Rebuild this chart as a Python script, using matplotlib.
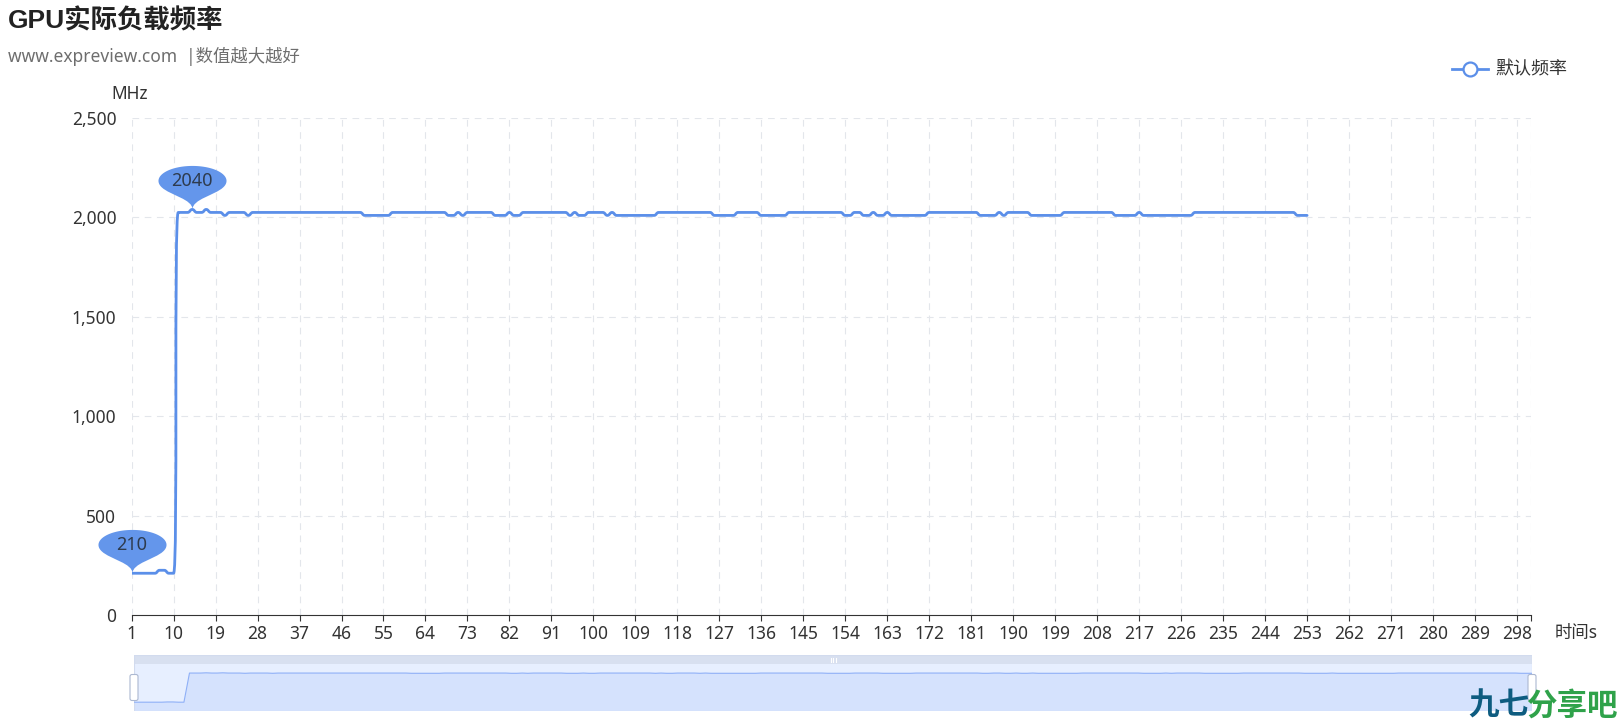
import numpy as np
import matplotlib
matplotlib.use("Agg")
import matplotlib.pyplot as plt
from matplotlib.path import Path
from matplotlib.patches import PathPatch, Rectangle, FancyBboxPatch, Polygon
from matplotlib.markers import MarkerStyle
from matplotlib.lines import Line2D

plt.rcParams['font.family'] = ['Noto Sans', 'Noto Sans CJK SC', 'DejaVu Sans']

# ---------------- data ----------------
title = "GPU实际负载频率"
subtitle = "www.expreview.com  |数值越大越好"
series_name = "默认频率"
y_unit = "MHz"
x_name = "时间s"
categories = list(range(1, 302))
y_ticks = [0, 500, 1000, 1500, 2000, 2500]
freq = [
    210, 210, 210, 210, 210, 210, 225, 225, 210, 210,
    2025, 2025, 2025, 2040, 2025, 2025, 2040, 2025, 2025, 2025,
    2010, 2025, 2025, 2025, 2025, 2010, 2025, 2025, 2025, 2025,
    2025, 2025, 2025, 2025, 2025, 2025, 2025, 2025, 2025, 2025,
    2025, 2025, 2025, 2025, 2025, 2025, 2025, 2025, 2025, 2025,
    2010, 2010, 2010, 2010, 2010, 2010, 2025, 2025, 2025, 2025,
    2025, 2025, 2025, 2025, 2025, 2025, 2025, 2025, 2010, 2010,
    2025, 2010, 2025, 2025, 2025, 2025, 2025, 2025, 2010, 2010,
    2010, 2025, 2010, 2010, 2025, 2025, 2025, 2025, 2025, 2025,
    2025, 2025, 2025, 2025, 2010, 2025, 2010, 2010, 2025, 2025,
    2025, 2025, 2010, 2025, 2010, 2010, 2010, 2010, 2010, 2010,
    2010, 2010, 2010, 2025, 2025, 2025, 2025, 2025, 2025, 2025,
    2025, 2025, 2025, 2025, 2025, 2010, 2010, 2010, 2010, 2010,
    2025, 2025, 2025, 2025, 2025, 2010, 2010, 2010, 2010, 2010,
    2010, 2025, 2025, 2025, 2025, 2025, 2025, 2025, 2025, 2025,
    2025, 2025, 2025, 2010, 2010, 2025, 2025, 2010, 2010, 2025,
    2010, 2010, 2025, 2010, 2010, 2010, 2010, 2010, 2010, 2010,
    2010, 2025, 2025, 2025, 2025, 2025, 2025, 2025, 2025, 2025,
    2025, 2025, 2010, 2010, 2010, 2010, 2025, 2010, 2025, 2025,
    2025, 2025, 2025, 2010, 2010, 2010, 2010, 2010, 2010, 2010,
    2025, 2025, 2025, 2025, 2025, 2025, 2025, 2025, 2025, 2025,
    2025, 2010, 2010, 2010, 2010, 2010, 2025, 2010, 2010, 2010,
    2010, 2010, 2010, 2010, 2010, 2010, 2010, 2010, 2025, 2025,
    2025, 2025, 2025, 2025, 2025, 2025, 2025, 2025, 2025, 2025,
    2025, 2025, 2025, 2025, 2025, 2025, 2025, 2025, 2025, 2025,
    2010, 2010, 2010,
]
x_vals = categories[:len(freq)]

# ---------------- style ----------------
LINE_C = '#5B8FE9'
TXT_C = '#333333'
GRID_C = '#E3E6EB'
W, H = 1620, 720

fig = plt.figure(figsize=(W / 100, H / 100), dpi=100)

def fx(px):
    return px / W

def fy(py):
    return 1 - py / H

L, R, T, B = 131.6, 1531.0, 118.0, 615.0
ax = fig.add_axes([fx(L), fy(B), fx(R - L), (B - T) / H])
ax.set_xlim(categories[0], categories[-1])
ax.set_ylim(y_ticks[0], y_ticks[-1])
for s in ['top', 'right', 'left']:
    ax.spines[s].set_visible(False)
ax.spines['bottom'].set_color(TXT_C)
ax.spines['bottom'].set_linewidth(0.8)

xt = categories[::9]
ax.set_xticks(xt)
ax.set_xticklabels([str(c) for c in xt])
ax.set_xticks([categories[-1]], minor=True)
ax.tick_params(axis='x', which='both', direction='out', length=4, width=0.8,
               color=TXT_C, labelsize=12.5, labelcolor=TXT_C, pad=3)
ax.set_yticks(y_ticks)
ax.set_yticklabels([f"{v:,}" for v in y_ticks])
ax.tick_params(axis='y', length=0, labelsize=12.5, labelcolor=TXT_C, pad=11)

for v in y_ticks[1:]:
    ax.axhline(v, color=GRID_C, lw=0.8, ls=(0, (6, 5)), zorder=0)
for c in xt + [categories[-1]]:
    ax.axvline(c, color=GRID_C, lw=0.8, ls=(0, (6, 5)), zorder=0)

# ---------------- smooth line (echarts-like bezier) ----------------
def smooth_path(pts, smooth=0.5):
    verts = [tuple(pts[0])]
    codes = [Path.MOVETO]
    cp0 = tuple(pts[0])
    prev = pts[0]
    n = len(pts)
    for i in range(1, n):
        x, y = pts[i]
        px_, py_ = prev
        if i == n - 1:
            cp1 = (x, y)
            ncp = (x, y)
        else:
            nx, ny = pts[i + 1]
            vx, vy = nx - px_, ny - py_
            l0 = np.hypot(x - px_, y - py_)
            l1 = np.hypot(nx - x, ny - y)
            ratio = l1 / (l1 + l0)
            ncx = x + vx * smooth * ratio
            ncy = y + vy * smooth * ratio
            ncx = max(min(ncx, max(nx, x)), min(nx, x))
            ncy = max(min(ncy, max(ny, y)), min(ny, y))
            vx, vy = ncx - x, ncy - y
            c1x = x - vx * l0 / l1
            c1y = y - vy * l0 / l1
            c1x = max(min(c1x, max(px_, x)), min(px_, x))
            c1y = max(min(c1y, max(py_, y)), min(py_, y))
            vx, vy = x - c1x, y - c1y
            ncp = (x + vx * l1 / l0, y + vy * l1 / l0)
            cp1 = (c1x, c1y)
        verts += [cp0, cp1, (x, y)]
        codes += [Path.CURVE4] * 3
        cp0 = ncp
        prev = pts[i]
    return np.array(verts), codes

disp = ax.transData.transform(np.column_stack([x_vals, freq]))
v_disp, cds = smooth_path(disp)
v_data = ax.transData.inverted().transform(v_disp)
ax.add_patch(PathPatch(Path(v_data, cds), facecolor='none', edgecolor=LINE_C,
                       lw=2.0, capstyle='round', joinstyle='round', zorder=3))

# ---------------- pins (max / min) ----------------
def pin_path(sx, sy):
    r, h = 0.6, 2.0
    dy = r * r / (h - r)
    cy = -h + r + dy
    ang = np.arcsin(dy / r)
    dx = np.cos(ang) * r
    tX, tY = np.sin(ang), np.cos(ang)
    cl, cl2 = r * 0.6, r * 0.7
    th = np.linspace(np.pi - ang, 2 * np.pi + ang, 80)
    arc = np.column_stack([r * np.cos(th), cy + r * np.sin(th)])
    verts = list(map(tuple, arc))
    codes = [Path.MOVETO] + [Path.LINETO] * (len(arc) - 1)
    verts += [(dx - tX * cl, cy + dy + tY * cl), (0, -cl2), (0, 0)]
    codes += [Path.CURVE4] * 3
    verts += [(0, -cl2), (-dx + tX * cl, cy + dy + tY * cl), (-dx, cy + dy)]
    codes += [Path.CURVE4] * 3
    verts += [(0, 0)]
    codes += [Path.CLOSEPOLY]
    v = np.array(verts, dtype=float)
    v[:, 1] *= -sy
    v[:, 0] *= sx
    return Path(v, codes), -(cy) * sy

pin, pin_cy = pin_path(56.7, 25.0)
ms = 2 * np.max(np.abs(pin.vertices)) * 0.72
i_max = int(np.argmax(freq))
i_min = int(np.argmin(freq))
for i in (i_max, i_min):
    ax.plot([x_vals[i]], [freq[i]], ls='none', marker=MarkerStyle(pin), ms=ms,
            mfc='#6496EB', mec='none', zorder=4, clip_on=False)
    ax.annotate(str(freq[i]), (x_vals[i], freq[i]), xytext=(0, pin_cy * 0.72),
                textcoords='offset points', ha='center', va='center',
                fontsize=13, color='#2E3B4E', zorder=5)

# ---------------- texts ----------------
fig.text(fx(8), fy(21), title, fontsize=19, fontweight='bold', color='#222222',
         ha='left', va='center', family=['Liberation Sans', 'Noto Sans CJK SC', 'DejaVu Sans'])
fig.text(fx(8), fy(56), subtitle, fontsize=12.5, color='#6E6E6E', ha='left', va='center')
fig.text(fx(130), fy(94), y_unit, fontsize=12.5, color=TXT_C, ha='center', va='center')
fig.text(fx(1555), fy(633), x_name, fontsize=12.5, color=TXT_C, ha='left', va='center')

# legend
fig.add_artist(Line2D([fx(1452), fx(1488)], [fy(69), fy(69)], color=LINE_C, lw=2.0,
                      transform=fig.transFigure))
fig.add_artist(Line2D([fx(1470)], [fy(69)], marker='o', ms=10, mfc='white', mec=LINE_C,
                      mew=1.6, transform=fig.transFigure))
fig.text(fx(1495), fy(69), series_name, fontsize=13, color=TXT_C, ha='left', va='center')

# ---------------- data zoom slider ----------------
ZL, ZR, ZT, ZB = 134.0, 1532.0, 655.0, 711.0
zax = fig.add_axes([fx(ZL), fy(ZB), fx(ZR - ZL), (ZB - ZT) / H])
zw, zh = ZR - ZL, ZB - ZT
zax.set_xlim(0, zw)
zax.set_ylim(0, zh)
zax.axis('off')
bar_h = 9.0
body_h = zh - bar_h
zax.add_patch(Rectangle((0, 0), zw, body_h, facecolor=(135/255, 175/255, 1.0, 0.2),
                        edgecolor='none'))
zax.add_patch(Rectangle((0, body_h), zw, bar_h, facecolor='#D2DBEE', alpha=0.85,
                        edgecolor='none'))
for dxg in (-2.5, 0, 2.5):
    zax.plot([zw / 2 + dxg] * 2, [body_h + 2.5, zh - 2.5], color='white', lw=0.8)

# data shadow
fv = np.array(freq, dtype=float)
ext = fv.max() - fv.min()
lo, hi = fv.min() - 0.3 * ext, fv.max() + 0.3 * ext
sx_ = np.arange(len(fv)) / (len(fv) - 1) * zw
sy_ = (fv - lo) / (hi - lo) * body_h
area = np.vstack([[0, 0], np.column_stack([sx_, sy_]), [zw, 0]])
zax.add_patch(Polygon(area, closed=True, facecolor='#8FB0F7', alpha=0.2, lw=0))
zax.plot(sx_, sy_, color='#8FB0F7', lw=0.8)
zax.add_patch(Rectangle((0, 0), zw, zh, facecolor='none', edgecolor='#D2DBEE', lw=0.8))
for hx in (0, zw):
    zax.add_patch(FancyBboxPatch((hx - 4, body_h / 2 - 13), 8, 26,
                                 boxstyle='round,pad=0,rounding_size=2',
                                 facecolor='white', edgecolor='#ACB8D1', lw=0.8,
                                 clip_on=False, zorder=5))

# watermark
fig.text(fx(1468), fy(706), "九七", fontsize=22, fontweight='bold', color='#0E5C80',
         ha='left', va='center', family=['Noto Sans CJK SC'])
fig.text(fx(1526), fy(706), "分享吧", fontsize=22, fontweight='bold', color='#2FA24A',
         ha='left', va='center', family=['Noto Sans CJK SC'])

fig.savefig('out.png', dpi=100)
